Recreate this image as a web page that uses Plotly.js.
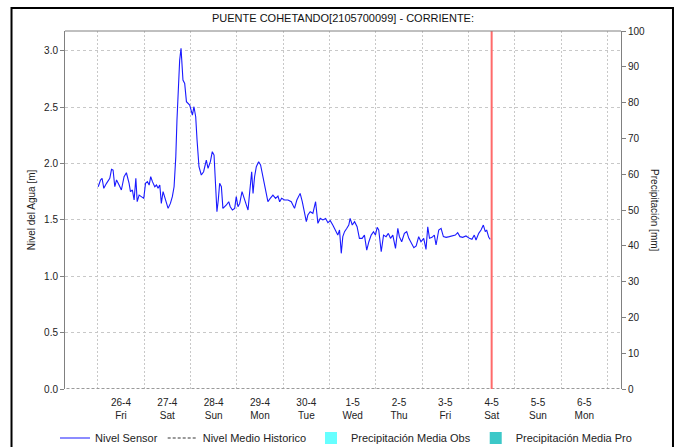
<!DOCTYPE html>
<html>
<head>
<meta charset="utf-8">
<script src="https://cdn.plot.ly/plotly-3.0.1.min.js"></script>
<style>html,body{margin:0;padding:0;background:#fff;}#chart{width:683px;height:447px;}</style>
</head>
<body>
<div id="chart"></div>
<script>
// ---- data ----
var startDay = Date.UTC(2024, 3, 26, 0, 0, 0); // 2024-04-26 00:00
// hours since 26-4 00:00
var sensorHours = [0.2,1.4,2.2,3.1,4.5,5.4,6.2,7.1,7.9,8.8,9.7,11.0,12.2,13.6,14.8,16.2,16.9,17.9,18.8,19.7,20.4,21.4,22.6,23.8,
24.7,25.7,26.6,27.4,28.3,29.5,30.4,31.2,32.1,32.9,33.8,34.7,36.4,37.6,38.6,39.5,40.4,41.0,41.7,42.4,43.1,43.6,44.1,45.0,45.9,47.6,
49.0,49.8,50.7,51.4,52.4,53.6,54.8,56.2,57.1,58.3,59.3,60.2,61.0,61.7,62.4,63.1,64.0,64.8,66.6,67.8,68.6,69.7,70.9,71.7,72.6,73.5,
74.7,75.5,76.6,77.8,78.6,79.7,80.4,81.2,82.1,83.3,84.3,85.5,86.9,88.1,89.3,90.7,92.1,93.3,94.2,95.2,96.7,98.5,100.2,101.9,103.1,
104.8,105.9,107.1,108.0,108.8,110.0,111.4,112.8,114.0,115.2,116.6,118.0,119.2,120.4,121.7,123.1,124.3,125.2,126.1,126.9,127.8,
129.0,130.0,130.7,131.8,133.0,134.3,135.5,136.9,138.1,139.3,140.4,141.6,142.8,143.8,144.7,145.5,146.8,148.0,149.3,150.5,151.6,
152.8,154.2,155.4,156.2,157.4,158.8,160.0,161.1,162.3,163.7,164.9,166.2,167.4,168.8,170.0,170.9,171.8,173.1,174.3,175.2,176.6,
177.8,179.0,180.4,182.1,183.8,185.2,186.4,187.6,189.0,190.7,192.5,193.8,195.0,195.9,197.3,198.5,199.7,200.7,201.4,202.5,203.3];
var sensorLevel = [1.795,1.855,1.870,1.781,1.825,1.855,1.870,1.949,1.943,1.795,1.855,1.810,1.766,1.884,1.919,1.825,1.751,1.766,1.677,1.870,1.662,1.721,1.707,1.692,
1.825,1.840,1.810,1.884,1.840,1.795,1.810,1.781,1.810,1.647,1.751,1.692,1.603,1.647,1.707,1.795,2.062,2.387,2.712,2.919,3.023,2.919,2.742,2.712,2.550,2.520,
2.431,2.505,2.416,2.209,1.973,1.899,1.928,2.032,1.958,2.017,2.106,2.076,1.825,1.573,1.677,1.825,1.795,1.603,1.633,1.662,1.618,1.588,1.603,1.707,1.618,1.647,
1.751,1.707,1.647,1.588,1.736,1.928,1.736,1.884,1.973,2.017,1.988,1.884,1.795,1.662,1.692,1.721,1.692,1.713,1.662,1.692,1.677,1.677,1.662,1.603,1.677,
1.736,1.662,1.573,1.485,1.544,1.573,1.559,1.662,1.470,1.514,1.500,1.514,1.476,1.494,1.455,1.411,1.366,1.411,1.204,1.352,1.396,
1.426,1.455,1.514,1.455,1.485,1.440,1.337,1.337,1.366,1.233,1.307,1.366,1.396,1.366,1.435,1.411,1.218,1.366,1.352,1.381,1.337,
1.366,1.248,1.426,1.352,1.307,1.381,1.396,1.337,1.293,1.254,1.269,1.352,1.307,1.337,1.239,1.440,1.337,1.346,1.366,1.278,1.411,
1.426,1.352,1.346,1.352,1.358,1.366,1.387,1.352,1.346,1.358,1.337,1.328,1.366,1.322,1.381,1.411,1.455,1.396,1.411,1.346,1.328];

var historicDates = ['2024-04-25','2024-04-26','2024-04-27','2024-04-28','2024-04-29','2024-04-30','2024-05-01','2024-05-02','2024-05-03','2024-05-04','2024-05-05','2024-05-06','2024-05-07','2024-05-08'];
var historicLevel = [0,0,0,0,0,0,0,0,0,0,0,0,0,0];

var precipObsDates = ['2024-04-26 12:00','2024-04-27 12:00','2024-04-28 12:00','2024-04-29 12:00','2024-04-30 12:00','2024-05-01 12:00','2024-05-02 12:00','2024-05-03 12:00','2024-05-04 12:00'];
var precipObs = [0,0,0,0,0,0,0,0,0];
var precipProDates = ['2024-05-05 12:00','2024-05-06 12:00'];
var precipPro = [0,0];

var nowTime = ['2024-05-04 12:00','2024-05-04 12:00'];
var nowSpan = [0,100];

var dayTicks = ['2024-04-26 12:00','2024-04-27 12:00','2024-04-28 12:00','2024-04-29 12:00','2024-04-30 12:00','2024-05-01 12:00','2024-05-02 12:00','2024-05-03 12:00','2024-05-04 12:00','2024-05-05 12:00','2024-05-06 12:00'];
var dayLabels = ['26-4','27-4','28-4','29-4','30-4','1-5','2-5','3-5','4-5','5-5','6-5'];
var weekdayLabels = ['Fri','Sat','Sun','Mon','Tue','Wed','Thu','Fri','Sat','Sun','Mon'];

// ---- build ----
var sensorTimes = sensorHours.map(function(h){ return startDay + h*3600000; });
var tickText = dayLabels.map(function(d,i){ return d + '<br>' + weekdayLabels[i]; });

var FONT = 'Liberation Sans, Arial, sans-serif';
var traces = [
  {type:'scatter', mode:'lines', name:'Nivel Sensor', x:sensorTimes, y:sensorLevel,
   line:{color:'#1a1aff', width:1.1}, xaxis:'x', yaxis:'y'},
  {type:'scatter', mode:'lines', name:'Nivel Medio Historico', x:historicDates, y:historicLevel,
   line:{color:'#9a9a9a', width:2, dash:'3px,2px'}, xaxis:'x', yaxis:'y'},
  {type:'bar', name:'Precipitación Media Obs', x:precipObsDates, y:precipObs,
   marker:{color:'#66ffff', line:{width:0}}, xaxis:'x', yaxis:'y2'},
  {type:'bar', name:'Precipitación Media Pro', x:precipProDates, y:precipPro,
   marker:{color:'#3cc8c8', line:{width:0}}, xaxis:'x', yaxis:'y2'},
  {type:'scatter', mode:'lines', name:'Ahora', x:nowTime, y:nowSpan, showlegend:false,
   line:{color:'#ff6a6a', width:2}, xaxis:'x', yaxis:'y2'}
];

var layout = {
  width:683, height:447,
  margin:{l:65, r:62, t:31, b:58, autoexpand:false},
  paper_bgcolor:'#ffffff', plot_bgcolor:'#ffffff',
  font:{family:FONT, size:10, color:'#222'},
  title:{text:'PUENTE COHETANDO[2105700099] - CORRIENTE:', x:0.5, xref:'paper', xanchor:'center',
         y:1-18/447, yref:'container', yanchor:'middle', font:{family:FONT, size:11, color:'#111'}},
  showlegend:true,
  legend:{orientation:'h', x:-0.018, xanchor:'left', y:-0.137, yanchor:'middle',
          font:{family:FONT, size:11, color:'#222'}, bgcolor:'rgba(0,0,0,0)'},
  bargap:0.3,
  xaxis:{type:'date', range:['2024-04-25 07:00','2024-05-07 07:00'], automargin:false,
         tickmode:'array', tickvals:dayTicks, ticktext:tickText,
         showgrid:false, zeroline:false, showline:false, ticks:'', ticklabelstandoff:6,
         tickfont:{family:FONT, size:10, color:'#222'},
         minor:{tickmode:'linear', tick0:'2024-04-26', dtick:86400000, showgrid:true,
                gridcolor:'#c8c8c8', griddash:'2px,2px', gridwidth:1, ticks:''}},
  yaxis:{range:[0,3.177], tickmode:'linear', tick0:0, dtick:0.5, tickformat:'.1f', automargin:false,
         showgrid:true, gridcolor:'#c8c8c8', griddash:'3px,3px', gridwidth:1, zeroline:false,
         showline:true, linecolor:'#808080', linewidth:1, ticks:'outside', ticklen:4, tickcolor:'#808080',
         tickfont:{family:FONT, size:10, color:'#222'},
         title:{text:'Nivel del Agua [m]', font:{family:FONT, size:10, color:'#222'}, standoff:6}},
  yaxis2:{overlaying:'y', side:'right', range:[0,100], tickmode:'linear', tick0:0, dtick:10, automargin:false,
          showgrid:false, zeroline:false, showline:true, linecolor:'#808080', linewidth:1,
          ticks:'outside', ticklen:4, tickcolor:'#808080',
          tickfont:{family:FONT, size:10, color:'#222'}},
  annotations:[
    {text:'Precipitación [mm]', xref:'paper', yref:'paper', x:1.061, y:0.5, textangle:90,
     showarrow:false, font:{family:FONT, size:10, color:'#222'}, xanchor:'center', yanchor:'middle'}
  ],
  shapes:[
    {type:'line', xref:'paper', yref:'paper', x0:0, x1:1, y0:1, y1:1, line:{color:'#808080', width:1}},
    {type:'rect', xref:'paper', yref:'paper', x0:-0.0962, x1:1.0935, y0:-0.3, y1:1.0642,
     line:{color:'#000000', width:2}, fillcolor:'rgba(0,0,0,0)'}
  ]
};

Plotly.newPlot('chart', traces, layout, {staticPlot:true, displayModeBar:false});
</script>
</body>
</html>
